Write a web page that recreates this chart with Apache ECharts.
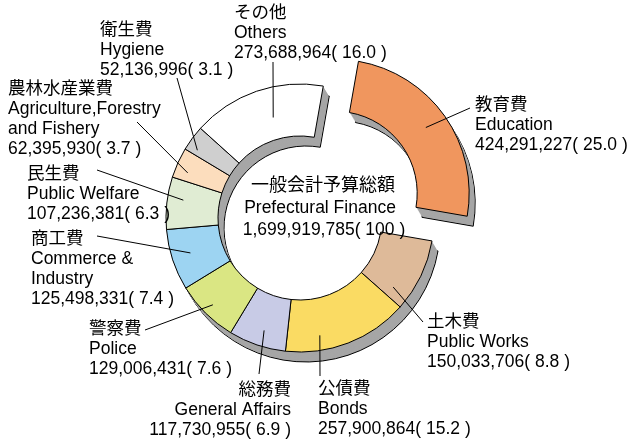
<!DOCTYPE html>
<html><head><meta charset="utf-8">
<script src="https://cdn.jsdelivr.net/npm/echarts@6/dist/echarts.min.js"></script>
<style>html,body{margin:0;padding:0;background:#fff}#c{width:631px;height:441px}</style>
</head><body><div id="c"></div>
<script>
// ---------- data ----------
const categoriesJp = ['教育費','土木費','公債費','総務費','警察費','商工費','民生費','農林水産業費','衛生費','その他'];
const categoriesEn = ['Education','Public Works','Bonds','General Affairs','Police','Commerce &\nIndustry','Public Welfare','Agriculture,Forestry\nand Fishery','Hygiene','Others'];
const values = [424291227,150033706,257900864,117730955,129006431,125498331,107236381,62395930,52136996,273688964];
const percents = ['25.0','8.8','15.2','6.9','7.6','7.4','6.3','3.7','3.1','16.0'];
const totalLabelJp = '一般会計予算総額';
const totalLabelEn = 'Prefectural Finance';
const totalValue = 1699919785;
const totalPercent = '100';

// ---------- styles / layout ----------
const colors = ['#F0965E','#DEBA99','#FADB63','#C8CBE6','#DAE683','#9DD4F2','#E0ECD3','#FCDDBD','#CFCFCF','#FFFFFF'];
const SHADOW = '#A6A6A6';
const CX = 300, CY = 218, R0 = 82, R1 = 134;
const START = 10;        // degrees clockwise from 12 o'clock
const EXPLODE = 43;      // explode distance of first slice
const DEPTH = [6, 10];   // 3D depth offset
const STEPS = 10;
const FONT = "'Liberation Sans', Arial, 'Noto Sans CJK JP', sans-serif";
const labelCfg = [
  {x:475, y:95,  align:'left',  end:[470,108], frac:.49, r:112},
  {x:427, y:312, align:'left',  end:[423,322], frac:.84, r:116},
  {x:318, y:379, align:'left',  end:[320,376], frac:.71, r:119},
  {x:291, y:380, align:'right', end:[259,374], frac:.46, r:118},
  {x:89,  y:319, align:'left',  end:[145,330], frac:.51, r:123},
  {x:31,  y:229, align:'left',  end:[97,236],  frac:.52, r:115},
  {x:27,  y:164, align:'left',  end:[97,170],  frac:.60, r:118},
  {x:8,   y:79,  align:'left',  end:[137,122], frac:.31, r:121},
  {x:100, y:20,  align:'left',  end:[177,78],  frac:.22, r:123},
  {x:234, y:3,   align:'left',  end:[273,62],  frac:.57, r:104}
];

const total = values.reduce((a,b)=>a+b,0);
const fmt = v => v.toLocaleString('en-US');
const cum = []; values.reduce((a,v,i)=>{cum[i]=a; return a+v;},0);
const rad = d => d*Math.PI/180;
function angleAt(i, frac){ return START + (cum[i] + values[i]*frac)/total*360; }
function polar(c, deg, r){ return [c[0] + r*Math.sin(rad(deg)), c[1] - r*Math.cos(rad(deg))]; }

const mainCenter = [CX, CY];
const eduMid = angleAt(0, 0.5);
const eduCenter = polar(mainCenter, eduMid, EXPLODE);

const transparent = {color:'rgba(0,0,0,0)', borderWidth:0};

function basePie(center, data, extra){
  return Object.assign({
    type:'pie', center:center, radius:[R0,R1], startAngle:90-START, clockwise:true,
    silent:true, animation:false, avoidLabelOverlap:false, minAngle:0,
    label:{show:false}, labelLine:{show:false}, emphasis:{disabled:true},
    data:data
  }, extra||{});
}

const series = [];
// main ring extrusion (3D depth)
for (let k = STEPS; k >= 1; k--) {
  const c = [CX + DEPTH[0]*k/STEPS, CY + DEPTH[1]*k/STEPS];
  const deep = k === STEPS;
  series.push(basePie(c, [
    {value: values[0], itemStyle: transparent},
    {value: total - values[0], itemStyle: {color: SHADOW, borderColor: deep ? '#000' : SHADOW, borderWidth: deep ? 1 : 0}}
  ]));
}
// exploded slice extrusion
for (let k = STEPS; k >= 1; k--) {
  const c = [eduCenter[0] + DEPTH[0]*k/STEPS, eduCenter[1] + DEPTH[1]*k/STEPS];
  const deep = k === STEPS;
  series.push(basePie(c, [
    {value: values[0], itemStyle: {color: SHADOW, borderColor: deep ? '#000' : SHADOW, borderWidth: deep ? 1 : 0}},
    {value: total - values[0], itemStyle: transparent}
  ]));
}

function labelText(i){
  return categoriesJp[i] + '\n' + categoriesEn[i] + '\n' + fmt(values[i]) + '( ' + percents[i] + ' )';
}
function makeLabelLayout(){
  return function(params){
    const i = params.dataIndex, L = labelCfg[i];
    return {x:L.x, y:L.y, align:L.align, verticalAlign:'top'};
  };
}
const labelStyle = {show:true, position:'outside', color:'#000', fontSize:17.5, lineHeight:20, fontFamily:FONT,
  formatter: p => labelText(p.dataIndex)};

// main ring
series.push(basePie(mainCenter, values.map((v,i)=> i===0
  ? {value:v, name:categoriesEn[i], itemStyle:transparent, label:{show:false}}
  : {value:v, name:categoriesEn[i], itemStyle:{color:colors[i], borderColor:'#000', borderWidth:1}}),
  {label:labelStyle, labelLine:{show:false}, labelLayout: makeLabelLayout()}));
// exploded slice
series.push(basePie(eduCenter, values.map((v,i)=> i===0
  ? {value:v, name:categoriesEn[i], itemStyle:{color:colors[i], borderColor:'#000', borderWidth:1}}
  : {value:v, name:categoriesEn[i], itemStyle:transparent, label:{show:false}}),
  {label:labelStyle, labelLine:{show:false}, labelLayout: makeLabelLayout()}));

// leader lines: start inside each slice (angle from data), end at the label
const leaderLines = labelCfg.map((L,i) => {
  const s = polar(i === 0 ? eduCenter : mainCenter, angleAt(i, L.frac), L.r);
  return {type:'line', z:100, silent:true, shape:{x1:s[0], y1:s[1], x2:L.end[0], y2:L.end[1]}, style:{stroke:'#000', lineWidth:1}};
});

const chart = echarts.init(document.getElementById('c'), null, {renderer:'canvas'});
chart.setOption({
  backgroundColor:'#fff',
  animation:false,
  series: series,
  graphic: leaderLines.concat([
    {type:'text', x:323, y:186, z:100, style:{text:totalLabelJp, fill:'#000', font:'18px ' + FONT, textAlign:'center', textVerticalAlign:'middle'}},
    {type:'text', x:320, y:208, z:100, style:{text:totalLabelEn, fill:'#000', font:'17.5px ' + FONT, textAlign:'center', textVerticalAlign:'middle'}},
    {type:'text', x:324, y:230, z:100, style:{text:fmt(totalValue) + '( ' + totalPercent + ' )', fill:'#000', font:'17.5px ' + FONT, textAlign:'center', textVerticalAlign:'middle'}}
  ])
});
</script></body></html>
